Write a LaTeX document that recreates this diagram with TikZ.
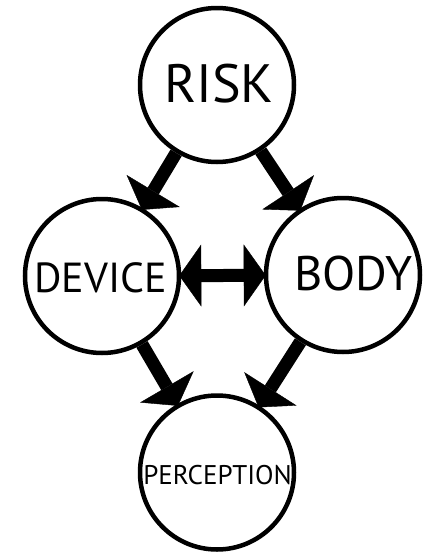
\documentclass[tikz,border=0pt]{standalone}
\usepackage{fontspec}
\setmainfont{PT Sans}
\usetikzlibrary{arrows.meta,backgrounds}
\begin{document}
\begin{tikzpicture}[x=1pt,y=-1pt,
  bubble/.style={circle,draw,line width=4.5pt,minimum size=154pt,inner sep=0pt,fill=white},
  word/.style={inner sep=0pt,font=\fontsize{#1}{#1}\selectfont},
  head/.tip={Triangle[width=62pt,length=22pt,line width=0.4pt]},
  flow/.style={line width=13pt,-head,shorten >=-2pt},
  mutual/.style={line width=13pt,head-head,shorten >=-2pt,shorten <=-2pt}
]
\useasboundingbox (0,0) rectangle (430,552);

\node[bubble,label={[word=54,name=risk-text,xshift=2pt,yshift=1pt]center:RISK}] (risk) at (217,85) {};
\node[bubble,label={[word=42,name=device-text,xshift=-1.5pt,yshift=-1.5pt]center:DEVICE}] (device) at (102,276) {};
\node[bubble,label={[word=48.5,name=body-text,xshift=10.5pt,yshift=1.5pt]center:BODY}] (body) at (343,275) {};
\node[bubble,label={[word=27,name=perception-text,xshift=0.5pt,yshift=-2.5pt]center:PERCEPTION}] (perception) at (217,472.5) {};

\begin{scope}[on background layer]
  \fill[white] (0,0) rectangle (430,552);
  \draw[flow] (risk) -- (device);
  \draw[flow] (risk) -- (body);
  \draw[mutual] (device) -- (body);
  \draw[flow] (device) -- (perception);
  \draw[flow] (body) -- (perception);
\end{scope}
\end{tikzpicture}
\end{document}
